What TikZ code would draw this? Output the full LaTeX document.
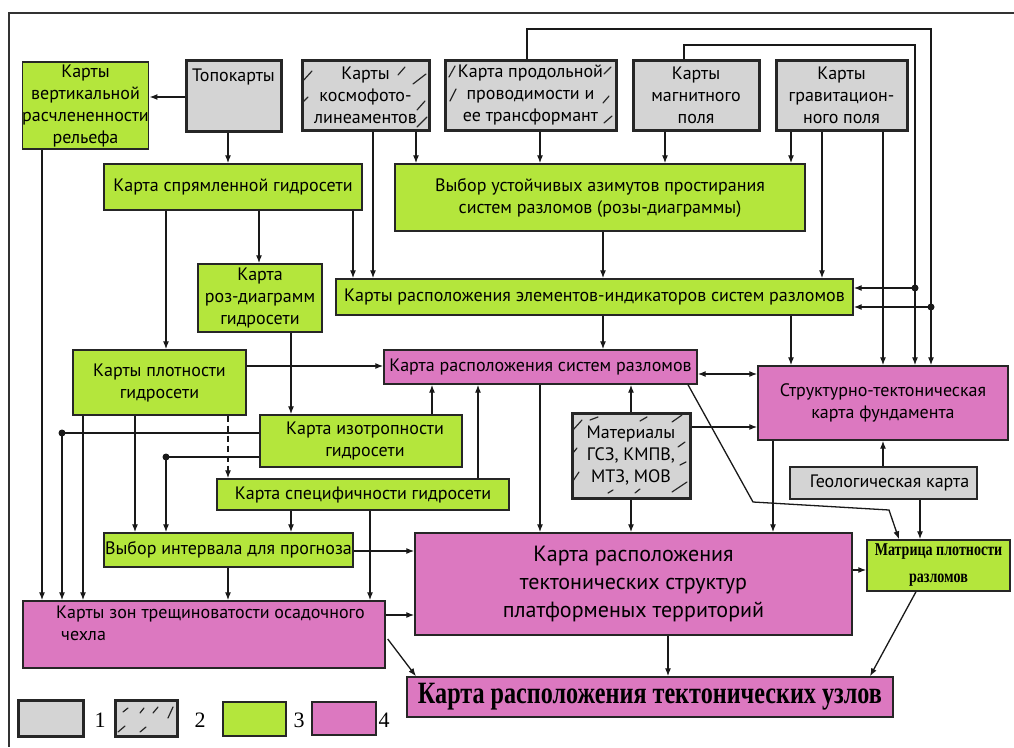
\documentclass[tikz,border=0pt]{standalone}
\usepackage{fontspec}
\setmainfont{PT Sans}
\newfontfamily\timesfont{Liberation Serif}
\newfontfamily\timescond[FakeStretch=0.78]{Liberation Serif}
\usetikzlibrary{arrows.meta}

\definecolor{boxgreen}{RGB}{180,230,60}
\definecolor{boxpink}{RGB}{220,120,192}
\definecolor{boxgray}{RGB}{212,212,212}

\tikzset{
  base/.style={rectangle, inner sep=0pt, align=center, draw=black!85,
    font=\fontsize{18}{22}\selectfont},
  src/.style={base, fill=boxgray, line width=3pt},
  geo/.style={base, fill=boxgray, line width=1.4pt},
  gbox/.style={base, fill=boxgreen, line width=1.4pt},
  pbox/.style={base, fill=boxpink, line width=1.4pt},
  sz/.style 2 args={minimum width=#1pt, minimum height=#2pt},
  txt/.style={inner sep=0pt, align=center, font=\fontsize{18}{22}\selectfont},
  hatch/.style={line width=1.2pt, line cap=round, black!85},
  conn/.style={line width=1.3pt, black!90},
  arr/.style={conn, -{Latex[length=8pt,width=6pt]}},
  dbl/.style={conn, {Latex[length=8pt,width=6pt]}-{Latex[length=8pt,width=6pt]}},
  jdot/.style={fill=black!90},
  legnum/.style={font=\timesfont\fontsize{22}{22}\selectfont, inner sep=0pt}
}

\begin{document}
\begin{tikzpicture}[x=1pt,y=-1pt]
\useasboundingbox (0,0) rectangle (1014,747);
\fill[white] (0,0) rectangle (1014,747);

% outer frame
\draw[line width=1.6pt, black!80] (1014,13) -- (9,13) -- (9,747);

% source maps (top row)
\node[src, sz={95}{71}] (topo) at (233.5,95.5) {};
\node[txt] (topot) at (233.5,77) {Топокарты};
\node[src, sz={127}{70}] (kosmo) at (365.5,95) {Карты\\космофото-\\линеаментов};
\node[src, sz={171}{70}] (prod) at (530.5,95) {Карта продольной\\проводимости и\\ее трансформант};
\node[src, sz={126}{70}] (magn) at (696,95) {Карты\\магнитного\\поля};
\node[src, sz={131}{70}] (grav) at (841.5,95) {Карты\\гравитацион-\\ного поля};

% hatching of the geophysical survey boxes
\foreach \a/\b/\c/\d in {302/82/312/71, 303/102/308/97, 398/75/405/67, 413/84/426/74,
    417/110/425/101, 417/127/427/117,
    449/77/455/66, 450/101/456/89, 604/74/611/67, 603/103/609/96, 604/123/612/116}
  \draw[hatch] (\a,\b) -- (\c,\d);

% derived maps
\node[gbox, sz={125}{87}] (vert) at (85.5,105.5) {Карты\\вертикальной\\расчлененности\\рельефа};
\node[gbox, sz={258}{46}] (spr) at (233,187) {Карта спрямленной гидросети};
\node[gbox, sz={410}{67}] (azim) at (600,197.5) {Выбор устойчивых азимутов простирания\\систем разломов (розы-диаграммы)};
\node[gbox, sz={124}{68}] (rose) at (260,298) {Карта\\роз-диаграмм\\гидросети};
\node[gbox, sz={517}{36}] (elem) at (594.5,297) {Карты расположения элементов-индикаторов систем разломов};
\node[gbox, sz={173}{65}] (dens) at (159.5,382.5) {Карты плотности\\гидросети};
\node[pbox, sz={313}{34}] (sys) at (540.5,367) {Карта расположения систем разломов};
\node[pbox, sz={250}{74}] (struct) at (883,403) {Структурно-тектоническая\\карта фундамента};
\node[gbox, sz={202}{52}] (iso) at (361,441) {\hspace*{8pt}Карта изотропности\\\hspace*{8pt}гидросети};
\node[src, sz={118}{85}] (mat) at (631,455.5) {Материалы\\ГСЗ, КМПВ,\\МТЗ, МОВ};
\foreach \a/\b/\c/\d in {573/430/582/420, 590/420/598/417, 640/421/647/417, 672/422/682/415,
    573/453/577/448, 573/481/579/472, 678/447/685/442, 680/465/686/462, 672/492/687/482,
    608/493/613/490, 635/493/640/489}
  \draw[hatch] (\a,\b) -- (\c,\d);
\node[gbox, sz={292}{31}] (spec) at (363,494.5) {Карта специфичности гидросети};
\node[geo, sz={187}{32}] (geol) at (883.5,483) {\hspace*{12pt}Геологическая карта};
\node[gbox, sz={249}{34}] (interval) at (228.5,550) {Выбор интервала для прогноза};
\node[pbox, sz={437}{102}, font=\fontsize{22}{28}\selectfont] (tect) at (633.5,584)
  {\rule{0pt}{6pt}Карта расположения\\тектонических структур\\платформеных территорий};
\node[gbox, sz={143}{51}, font=\timescond\bfseries\fontsize{18}{27}\selectfont] (matrix) at (938.5,565.5)
  {\rule{0pt}{5pt}Матрица плотности\\разломов};
\node[pbox, sz={362}{67}] (zones) at (204,634.5) {};
\node[txt, align=left, anchor=north west] (zonest) at (56,606)
  {Карты зон трещиноватости осадочного\\\hspace*{5pt}чехла};
\node[pbox, sz={486}{40}, font=\timescond\bfseries\fontsize{31}{31}\selectfont] (knots) at (650,697)
  {Карта расположения тектонических узлов};

% legend
\node[src, sz={65}{36}] (leg1) at (50.5,718) {};
\node[src, sz={62}{36}] (leg2) at (146,718) {};
\foreach \a/\b/\c/\d in {123/712/128/708, 140/713/144/708, 153/713/158/707, 168/718/173/707,
    118/732/125/726, 140/732/146/727}
  \draw[hatch] (\a,\b) -- (\c,\d);
\node[gbox, sz={63}{34}] (leg3) at (254.5,719) {};
\node[pbox, sz={64}{33}] (leg4) at (344,718.5) {};
\node[legnum] (n1) at (100,720) {1};
\node[legnum] (n2) at (200,720) {2};
\node[legnum] (n3) at (299,720) {3};
\node[legnum] (n4) at (384,720) {4};

% ---------- connectors ----------
% from the topographic maps
\draw[arr] (topo.west |- 0,97) -- (vert.east |- 0,97);
\draw[arr] (topo.south -| 228,0) -- (spr.north -| 228,0);
% into the azimuth selection
\draw[arr] (kosmo.south -| 416,0) -- (azim.north -| 416,0);
\draw[arr] (prod.south -| 540,0) -- (azim.north -| 540,0);
\draw[arr] (magn.south -| 665,0) -- (azim.north -| 665,0);
\draw[arr] (grav.south -| 791,0) -- (azim.north -| 791,0);
% into the indicator-elements map
\draw[arr] (kosmo.south -| 373,0) -- (elem.north -| 373,0);
\draw[arr] (spr.south -| 353,0) -- (elem.north -| 353,0);
\draw[arr] (azim.south -| 603,0) -- (elem.north -| 603,0);
\draw[arr] (grav.south -| 822,0) -- (elem.north -| 822,0);
% hydronetwork chain
\draw[arr] (spr.south -| 259,0) -- (rose.north -| 259,0);
\draw[arr] (spr.south -| 166,0) -- (dens.north -| 166,0);
\draw[arr] (vert.south -| 42,0) -- (zones.north -| 42,0);
% long loops from the conductivity and magnetic maps
\coordinate (loopA) at (931,29);
\coordinate (loopB) at (915,45);
\coordinate (jA) at (915,288);
\coordinate (jB) at (931,307);
\draw[arr] (prod.north -| 527,0) |- (loopA) -- (struct.north -| loopA);
\draw[arr] (magn.north -| 684,0) |- (loopB) -- (struct.north -| loopB);
\fill[jdot] (jA) circle (3.5pt);
\fill[jdot] (jB) circle (3.5pt);
\draw[arr] (jA) -- (elem.east |- jA);
\draw[arr] (jB) -- (elem.east |- jB);
\draw[arr] (grav.south -| 883,0) -- (struct.north -| 883,0);
\draw[arr] (elem.south -| 791,0) -- (struct.north -| 791,0);
\draw[arr] (elem.south -| 603,0) -- (sys.north -| 603,0);
\draw[dbl] (sys.east |- 0,374) -- (struct.west |- 0,374);
\draw[arr] (dens.east |- 0,366) -- (sys.west |- 0,366);
\draw[arr] (rose.south -| 291,0) -- (iso.north -| 291,0);
% isotropy map branches
\coordinate (jC) at (62,433);
\coordinate (jD) at (166,457);
\draw[conn] (iso.west |- jC) -- (jC);
\draw[arr] (jC) -- (zones.north -| jC);
\draw[conn] (iso.west |- jD) -- (jD);
\draw[arr] (jD) -- (interval.north -| jD);
\fill[jdot] (jC) circle (3.5pt);
\fill[jdot] (jD) circle (3.5pt);
% density map outputs
\draw[arr, dash pattern=on 6pt off 4pt] (dens.south -| 228,0) -- (spec.north -| 228,0);
\draw[arr] (dens.south -| 83,0) -- (zones.north -| 83,0);
\draw[arr] (dens.south -| 135,0) -- (interval.north -| 135,0);
% specificity map outputs
\draw[arr] (spec.south -| 291,0) -- (interval.north -| 291,0);
\draw[arr] (spec.south -| 370,0) -- (zones.north -| 370,0);
\draw[arr] (iso.north -| 432,0) -- (sys.south -| 432,0);
\draw[arr] (spec.north -| 478,0) -- (sys.south -| 478,0);
% interval selection and fracture zones
\draw[arr] (interval.east |- 0,551) -- (tect.west |- 0,551);
\draw[arr] (interval.south -| 228,0) -- (zones.north -| 228,0);
\draw[arr] (zones.east |- 0,615) -- (tect.west |- 0,615);
\draw[arr] ([xshift=2pt]zones.east |- 0,639) -- (knots.north west -| 416,0);
% into the tectonic structures map
\draw[arr] (sys.south -| 540,0) -- (tect.north -| 540,0);
\draw[arr] (mat.north -| 631,0) -- (sys.south -| 631,0);
\draw[arr] (mat.east |- 0,427) -- (struct.west |- 0,427);
\draw[arr] (mat.south -| 631,0) -- (tect.north -| 631,0);
\draw[arr] (struct.south -| 773,0) -- (tect.north -| 773,0);
\draw[arr] (geol.north -| 883,0) -- (struct.south -| 883,0);
\draw[arr] (geol.south -| 920,0) -- (matrix.north -| 920,0);
\draw[arr] (sys.south -| 688,0) -- (753,502) -- (889,510) -- (matrix.north -| 899,0);
\draw[arr] (tect.east |- 0,570) -- (matrix.west |- 0,570);
% final map
\draw[arr] (tect.south -| 668,0) -- (knots.north -| 668,0);
\draw[arr] (matrix.south -| 916,0) -- (knots.north -| 870,0);
\end{tikzpicture}
\end{document}
